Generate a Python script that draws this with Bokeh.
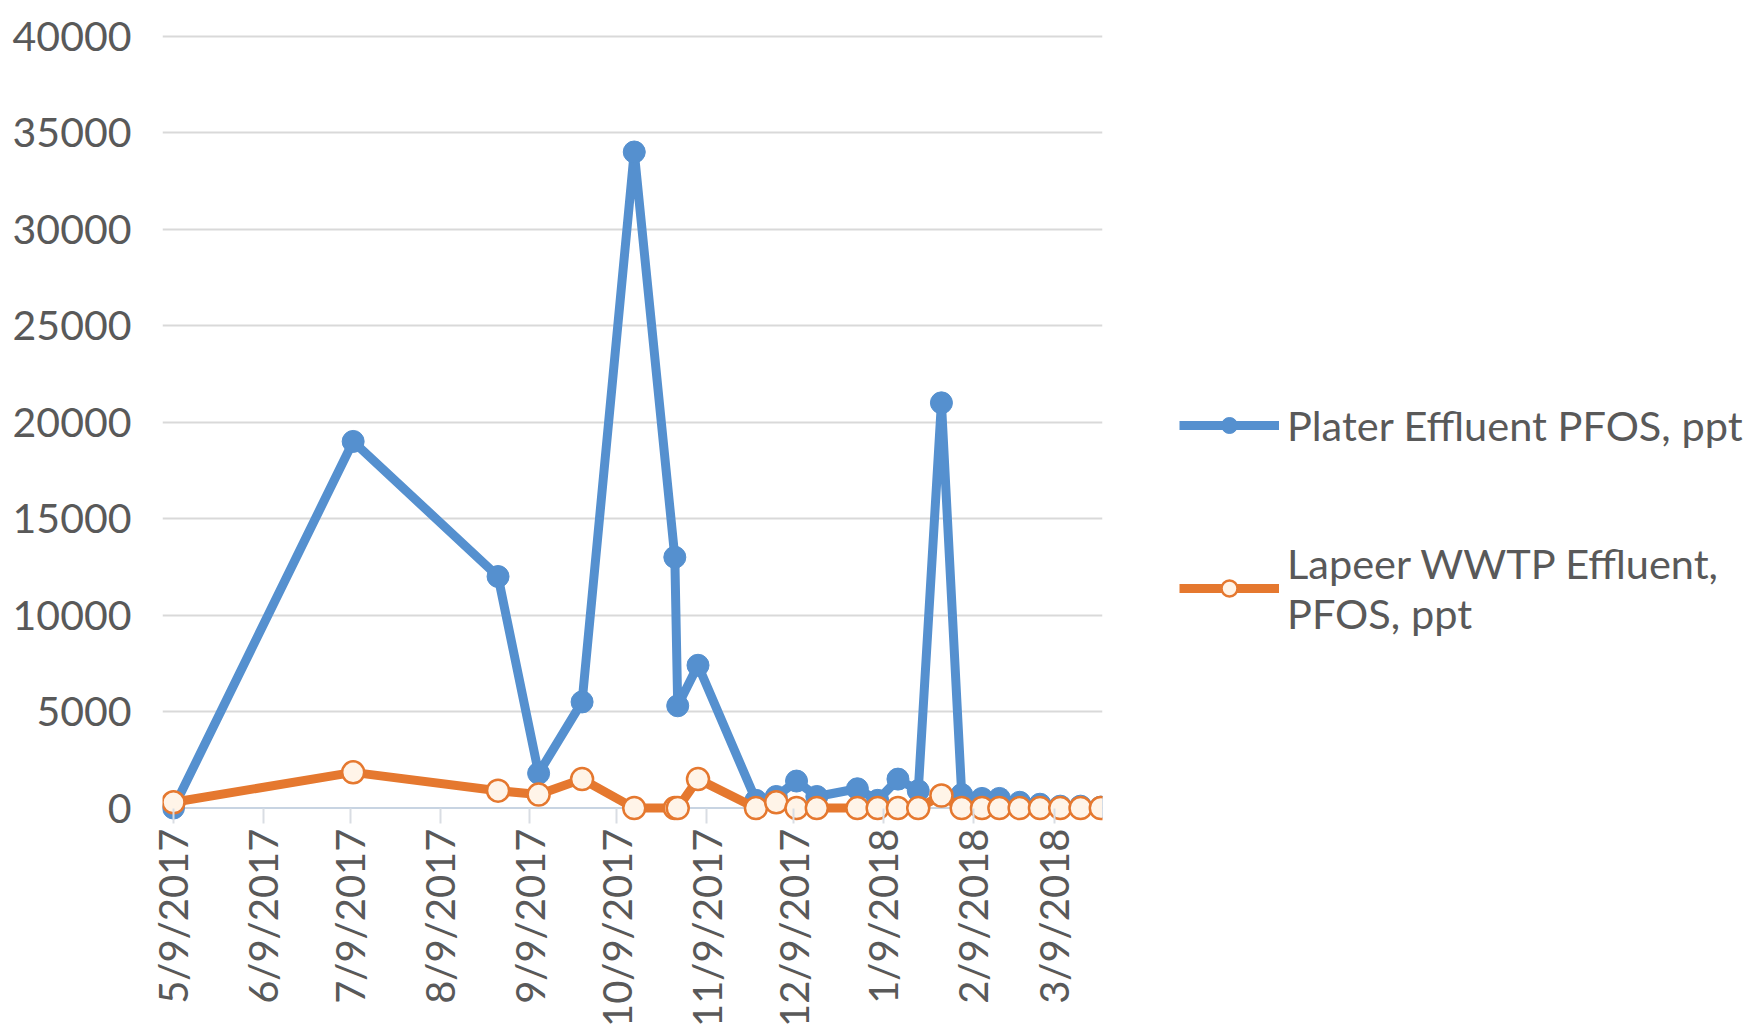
import math
import pandas as pd
from bokeh.plotting import figure
from bokeh.models import (Range1d, FixedTicker, NumeralTickFormatter, Span,
                          Legend, LegendItem)
from bokeh.embed import file_html
from bokeh.resources import INLINE

# ---------------- data ----------------
sample_dates = ["2017-05-09", "2017-07-10", "2017-08-29", "2017-09-12", "2017-09-27",
                "2017-10-15", "2017-10-29", "2017-10-30", "2017-11-06", "2017-11-26",
                "2017-12-03", "2017-12-10", "2017-12-17", "2017-12-31", "2018-01-07",
                "2018-01-14", "2018-01-21", "2018-01-29", "2018-02-05", "2018-02-12",
                "2018-02-18", "2018-02-25", "2018-03-04", "2018-03-11", "2018-03-18",
                "2018-03-25"]
plater_pfos = [0, 19000, 12000, 1800, 5500,
               34000, 13000, 5300, 7400, 400,
               600, 1400, 600, 1000, 400,
               1500, 900, 21000, 700, 500,
               500, 300, 200, 100, 100,
               50]
lapeer_pfos = [300, 1850, 900, 700, 1500,
               0, 0, 0, 1500, 0,
               300, 0, 0, 0, 0,
               0, 0, 650, 0, 0,
               0, 0, 0, 0, 0,
               0]
series_names = ["Plater Effluent PFOS, ppt", "Lapeer WWTP Effluent,\nPFOS, ppt"]
tick_dates = ["2017-05-09", "2017-06-09", "2017-07-09", "2017-08-09", "2017-09-09",
              "2017-10-09", "2017-11-09", "2017-12-09", "2018-01-09", "2018-02-09",
              "2018-03-09"]
tick_labels = ["5/9/2017", "6/9/2017", "7/9/2017", "8/9/2017", "9/9/2017",
               "10/9/2017", "11/9/2017", "12/9/2017", "1/9/2018", "2/9/2018",
               "3/9/2018"]
y_ticks = [0, 5000, 10000, 15000, 20000, 25000, 30000, 35000, 40000]

# ---------------- figure ----------------
x = pd.to_datetime(sample_dates)
epoch = pd.Timestamp("1970-01-01")
tick_ms = [(pd.Timestamp(d) - epoch).total_seconds() * 1000.0 for d in tick_dates]

FONT = "Lato"
TXT = "#595959"
BLUE = "#5590cf"
ORANGE = "#e5782f"

x0 = pd.Timestamp(sample_dates[0]) - pd.Timedelta(hours=91)
x1 = pd.Timestamp(sample_dates[-1]) + pd.Timedelta(hours=14)

p = figure(x_axis_type="datetime", frame_width=940, frame_height=795,
           min_border_left=162, min_border_top=28, min_border_bottom=196,
           min_border_right=646, output_backend="svg", toolbar_location=None,
           x_range=Range1d(x0, x1), y_range=Range1d(-800, 40400))
p.outline_line_color = None
p.background_fill_color = "white"
p.border_fill_color = "white"

# y axis
p.yaxis.ticker = FixedTicker(ticks=y_ticks)
p.yaxis.formatter = NumeralTickFormatter(format="0")
p.yaxis.axis_line_color = None
p.yaxis.major_tick_line_color = None
p.yaxis.minor_tick_line_color = None
p.yaxis.major_tick_out = 0
p.yaxis.major_label_standoff = 31
p.yaxis.major_label_text_font = FONT
p.yaxis.major_label_text_font_size = "41px"
p.yaxis.major_label_text_color = TXT

# x axis
p.xaxis.ticker = FixedTicker(ticks=tick_ms)
p.xaxis.major_label_overrides = {t: lab for t, lab in zip(tick_ms, tick_labels)}
p.xaxis.axis_line_color = None
p.xaxis.minor_tick_line_color = None
p.xaxis.major_tick_line_color = "#d9dde3"
p.xaxis.major_tick_line_width = 2
p.xaxis.major_tick_in = 15
p.xaxis.major_tick_out = 0
p.xaxis.major_label_orientation = math.pi / 2
p.xaxis.major_label_standoff = 5
p.xaxis.major_label_text_font = FONT
p.xaxis.major_label_text_font_size = "40px"
p.xaxis.major_label_text_color = TXT

# grid
p.xgrid.grid_line_color = None
p.ygrid.ticker = FixedTicker(ticks=y_ticks[1:])
p.ygrid.grid_line_color = "#d9d9d9"
p.ygrid.grid_line_width = 2
p.add_layout(Span(location=0, dimension="width", line_color="#c8d4e2",
                  line_width=2, level="underlay"))

# series
bl = p.line(x, plater_pfos, line_color=BLUE, line_width=9, line_join="round")
bm = p.scatter(x, plater_pfos, marker="circle", size=22, fill_color=BLUE,
               line_color=BLUE, line_width=1)
ol = p.line(x, lapeer_pfos, line_color=ORANGE, line_width=9, line_join="round")
om = p.scatter(x, lapeer_pfos, marker="circle", size=22, fill_color="#fff4e8",
               line_color=ORANGE, line_width=2.5)

legend = Legend(items=[LegendItem(label=series_names[0], renderers=[bl, bm]),
                       LegendItem(label=series_names[1], renderers=[ol, om])],
                location=(77, 185))
legend.border_line_color = None
legend.background_fill_alpha = 0
legend.padding = 0
legend.margin = 0
legend.glyph_width = 100
legend.glyph_height = 40
legend.label_standoff = 8
legend.spacing = 88
legend.label_text_font = FONT
legend.label_text_font_size = "41.5px"
legend.label_text_color = TXT
p.add_layout(legend, "right")

open("out.html", "w").write(file_html(p, INLINE))
